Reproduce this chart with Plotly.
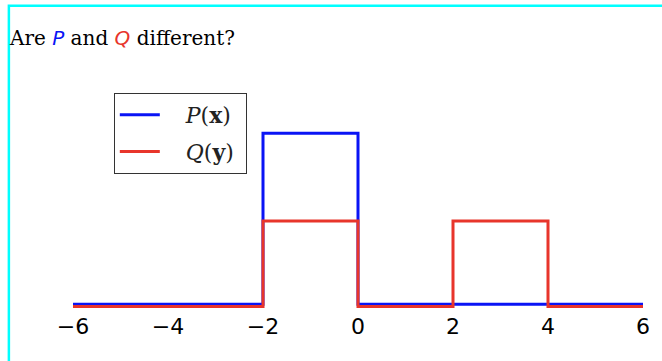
import plotly.graph_objects as go

# Step densities on a shared grid of breakpoints
x_edges = [-6, -2, 0, 2, 4, 6]
p_vals = [0, 0.5, 0, 0, 0, 0]
q_vals = [0, 0.25, 0, 0.25, 0, 0]
x_ticks = [-6, -4, -2, 0, 2, 4, 6]
x_tick_text = ["\u22126", "\u22124", "\u22122", "0", "2", "4", "6"]

BLUE = "#0a14f5"
RED = "#e8352b"
PAD = "\u00a0" * 3  # gap between legend line sample and its label
TAIL = "\u00a0"     # a little room before the legend's right border

fig = go.Figure()
fig.add_trace(go.Scatter(
    x=x_edges, y=p_vals, mode="lines", line=dict(color=BLUE, width=3, shape="hv"),
    name=PAD + "<i>P</i>(<b>x</b>)" + TAIL, legendgroup="p",
))
fig.add_trace(go.Scatter(
    x=x_edges, y=q_vals, mode="lines", line=dict(color=RED, width=3, shape="hv"),
    name=PAD + "<i>Q</i>(<b>y</b>)" + TAIL, legendgroup="q", yaxis="y2",
))

y_range = [-0.02, 0.6]
shift = 0.007

fig.update_layout(
    width=662, height=361,
    margin=dict(l=73, r=16, t=99, b=50),
    paper_bgcolor="white", plot_bgcolor="white",
    showlegend=True,
    legend=dict(
        x=0.0716, y=1.028, xanchor="left", yanchor="top",
        bordercolor="#333", borderwidth=1, bgcolor="white",
        font=dict(family="DejaVu Serif", size=22, color="#222"),
        tracegroupgap=5, itemwidth=40,
    ),
    xaxis=dict(
        range=[-6, 6], tickvals=x_ticks, ticktext=x_tick_text,
        showgrid=False, zeroline=False, showline=False, ticks="",
        tickfont=dict(family="DejaVu Sans", size=22, color="black"),
    ),
    yaxis=dict(range=y_range, visible=False, showgrid=False, zeroline=False),
    yaxis2=dict(range=[y_range[0] + shift, y_range[1] + shift], overlaying="y",
                visible=False, showgrid=False, zeroline=False),
    annotations=[dict(
        xref="paper", yref="paper", x=-0.115, y=1.29, xanchor="left", yanchor="middle",
        showarrow=False,
        text=("Are <span style='color:%s;font-family:DejaVu Sans'><i>P</i></span> and "
              "<span style='color:%s;font-family:DejaVu Sans'><i>Q</i></span> different?") % (BLUE, RED),
        font=dict(family="DejaVu Serif", size=20, color="black"),
    )],
    shapes=[dict(
        type="rect", xref="paper", yref="paper",
        x0=-0.1125, x1=1.2, y0=-0.6, y1=1.44,
        line=dict(color="#00ffff", width=2.5), layer="above",
    )],
)

fig.write_html("out.html")
